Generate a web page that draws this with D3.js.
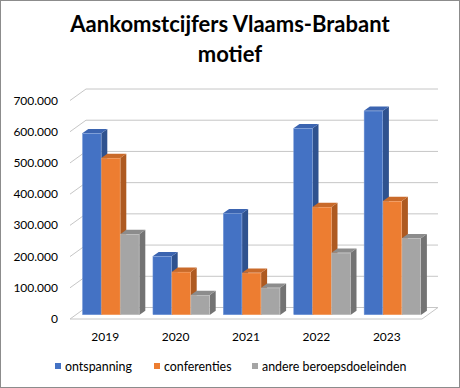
<!DOCTYPE html>
<html>
<head>
<meta charset="utf-8">
<script src="https://cdn.jsdelivr.net/npm/d3@7"></script>
<style>
  body { margin: 0; background: #fff; }
  text { font-family: Lato, "Open Sans", sans-serif; fill: #000; }
</style>
</head>
<body>
<div id="chart"></div>
<script>
// Aankomstcijfers Vlaams-Brabant per motief, 3D clustered columns
const years = ["2019", "2020", "2021", "2022", "2023"];
const seriesNames = ["ontspanning", "conferenties", "andere beroepsdoeleinden"];
const ontspanning = [582000, 188000, 326000, 598000, 654000];
const conferenties = [503000, 138000, 135000, 346000, 365000];
const andereBeroeps = [259000, 64000, 87000, 199000, 246000];
const yTicks = [0, 100000, 200000, 300000, 400000, 500000, 600000, 700000];

const seriesValues = [ontspanning, conferenties, andereBeroeps];
const colors = [
    { front: "#4472C4", side: "#2F528F", top: "#3B64B0", edge: "#6F93D6" },
    { front: "#ED7D31", side: "#AE5A21", top: "#C96A2A", edge: "#F29A5E" },
    { front: "#A5A5A5", side: "#737373", top: "#8C8C8C", edge: "#BDBDBD" }
];

const W = 460, H = 388;
const svg = d3.select("#chart").append("svg")
    .attr("width", W)
    .attr("height", H);

svg.append("rect")
    .attr("x", 0.5).attr("y", 0.5)
    .attr("width", W - 1).attr("height", H - 1)
    .attr("fill", "#fff")
    .attr("stroke", "#8c8c8c");

// plot floor (front edge) and depth offset of the back wall
const floor = { left: 70, right: 422 };
const depth = { dx: 16, dy: -11.5 };

const x = d3.scaleBand().domain(years).range([floor.left, floor.right]);
const y = d3.scaleLinear().domain([0, 700000]).range([319, 100.5]);

// project a point at depth z (0 = front, 1 = back wall)
const px = (xv, z) => xv + depth.dx * z;
const py = (yv, z) => yv + depth.dy * z;

const grid = svg.append("g").attr("stroke", "#c6c6c6").attr("fill", "none");

// back wall gridlines and left diagonals
yTicks.forEach(t => {
    grid.append("line")
        .attr("x1", px(floor.left, 1)).attr("x2", px(floor.right, 1))
        .attr("y1", py(y(t), 1)).attr("y2", py(y(t), 1));
    grid.append("line")
        .attr("x1", floor.left).attr("y1", y(t))
        .attr("x2", px(floor.left, 1)).attr("y2", py(y(t), 1));
});

// floor front edge and right diagonal
grid.append("line")
    .attr("x1", floor.left).attr("x2", floor.right)
    .attr("y1", y(0)).attr("y2", y(0));
grid.append("line")
    .attr("x1", floor.right).attr("y1", y(0))
    .attr("x2", px(floor.right, 1)).attr("y2", py(y(0), 1));

// bars
const barZ = 0.35, barDepth = 0.375;
const barW = 19;
const groupW = barW * seriesValues.length;
const bdx = depth.dx * barDepth, bdy = depth.dy * barDepth;

const bars = svg.append("g");
years.forEach((yr, i) => {
    const gx0 = x(yr) + (x.bandwidth() - groupW) / 2;
    seriesValues.forEach((vals, s) => {
        const x0 = px(gx0 + s * barW, barZ);
        const x1 = x0 + barW;
        const yb = py(y(0), barZ);
        const yt = py(y(vals[i]), barZ);
        const c = colors[s];
        const g = bars.append("g");
        // side face
        g.append("path")
            .attr("d", `M${x1},${yb}L${x1 + bdx},${yb + bdy}L${x1 + bdx},${yt + bdy}L${x1},${yt}Z`)
            .attr("fill", c.side);
        // top face
        g.append("path")
            .attr("d", `M${x0},${yt}L${x0 + bdx},${yt + bdy}L${x1 + bdx},${yt + bdy}L${x1},${yt}Z`)
            .attr("fill", c.top);
        // front face
        g.append("rect")
            .attr("x", x0 + 0.25).attr("y", yt + 0.25)
            .attr("width", barW - 0.5).attr("height", yb - yt - 0.5)
            .attr("fill", c.front)
            .attr("stroke", c.edge)
            .attr("stroke-width", 0.5);
    });
});

// y axis labels
const fmt = d3.formatLocale({ decimal: ",", thousands: ".", grouping: [3], currency: ["", ""] }).format(",");
svg.append("g").selectAll("text")
    .data(yTicks)
    .join("text")
    .attr("x", 58)
    .attr("y", d => y(d) + 4)
    .attr("text-anchor", "end")
    .attr("font-size", 12)
    .text(d => fmt(d));

// x axis labels
svg.append("g").selectAll("text")
    .data(years)
    .join("text")
    .attr("x", d => x(d) + x.bandwidth() / 2)
    .attr("y", 341)
    .attr("text-anchor", "middle")
    .attr("font-size", 12)
    .text(d => d);

// title
const title = svg.append("text")
    .attr("x", 230)
    .attr("text-anchor", "middle")
    .attr("font-size", 22)
    .attr("font-weight", "bold");
title.append("tspan").attr("x", 230).attr("y", 32).text("Aankomstcijfers Vlaams-Brabant");
title.append("tspan").attr("x", 230).attr("y", 62).text("motief");

// legend
const legendX = [55, 154, 252];
const legend = svg.append("g");
seriesNames.forEach((name, s) => {
    legend.append("rect")
        .attr("x", legendX[s]).attr("y", 363)
        .attr("width", 6).attr("height", 6)
        .attr("fill", colors[s].front);
    legend.append("text")
        .attr("x", legendX[s] + 10)
        .attr("y", 371)
        .attr("font-size", 12.4)
        .text(name);
});
</script>
</body>
</html>
